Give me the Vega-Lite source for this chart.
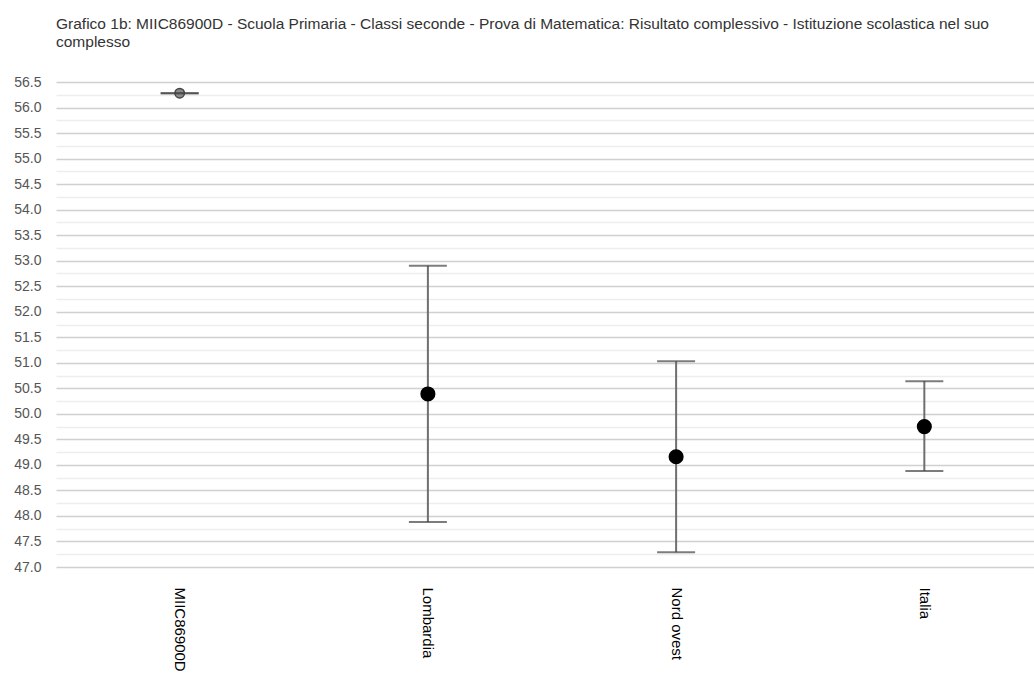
{
  "$schema": "https://vega.github.io/schema/vega-lite/v6.json",
  "width": 978,
  "height": 485,
  "autosize": "none",
  "padding": {"left": 56, "top": 82, "right": 0, "bottom": 108},
  "background": "white",
  "title": {
    "text": ["Grafico 1b: MIIC86900D - Scuola Primaria - Classi seconde - Prova di Matematica: Risultato complessivo - Istituzione scolastica nel suo", "complesso"],
    "anchor": "start",
    "frame": "group",
    "font": "Liberation Sans",
    "fontSize": 15.5,
    "fontWeight": "normal",
    "color": "#333333",
    "lineHeight": 18,
    "offset": 25
  },
  "config": {"view": {"stroke": null}},
  "resolve": {"axis": {"y": "independent"}},
  "data": {
    "values": [
      {"nome": "MIIC86900D", "media": 56.28, "inf": 56.28, "sup": 56.28},
      {"nome": "Lombardia", "media": 50.39, "inf": 47.88, "sup": 52.9},
      {"nome": "Nord ovest", "media": 49.16, "inf": 47.29, "sup": 51.03},
      {"nome": "Italia", "media": 49.75, "inf": 48.88, "sup": 50.64}
    ]
  },
  "encoding": {
    "x": {
      "field": "nome",
      "type": "nominal",
      "sort": null,
      "scale": {"type": "point", "padding": 0.47, "align": 0.53},
      "axis": {
        "title": null,
        "labelAngle": 90,
        "labelAlign": "left",
        "labelBaseline": "middle",
        "labelFont": "Liberation Sans",
        "labelFontSize": 15,
        "labelColor": "#000000",
        "labelPadding": 20,
        "domain": false,
        "ticks": false,
        "grid": false
      }
    }
  },
  "layer": [
    {
      "mark": {"type": "rule", "color": "#6f6f6f", "strokeWidth": 2},
      "encoding": {
        "y": {
          "field": "inf",
          "type": "quantitative",
          "scale": {"domain": [47, 56.5], "nice": false, "zero": false},
          "axis": {
            "title": null,
            "values": [47, 47.25, 47.5, 47.75, 48, 48.25, 48.5, 48.75, 49, 49.25, 49.5, 49.75, 50, 50.25, 50.5, 50.75, 51, 51.25, 51.5, 51.75, 52, 52.25, 52.5, 52.75, 53, 53.25, 53.5, 53.75, 54, 54.25, 54.5, 54.75, 55, 55.25, 55.5, 55.75, 56, 56.25, 56.5],
            "labelExpr": "datum.value % 0.5 === 0 ? format(datum.value, '.1f') : ''",
            "labelOverlap": false,
            "labelFont": "Liberation Sans",
            "labelFontSize": 14,
            "labelColor": "#555555",
            "labelPadding": 15,
            "domain": false,
            "ticks": false,
            "grid": true,
            "gridColor": {"condition": {"test": "datum.value % 0.5 !== 0", "value": "#ededed"}, "value": "#d0d0d0"},
            "gridWidth": 1.5
          }
        },
        "y2": {"field": "sup"}
      }
    },
    {
      "mark": {"type": "point", "filled": true, "opacity": 1},
      "encoding": {
        "y": {"field": "media", "type": "quantitative", "axis": null},
        "size": {"condition": {"test": "datum.nome === 'MIIC86900D'", "value": 90}, "value": 185},
        "color": {"condition": {"test": "datum.nome === 'MIIC86900D'", "value": "#8a8a8a"}, "value": "#000000"},
        "stroke": {"condition": {"test": "datum.nome === 'MIIC86900D'", "value": "#444444"}, "value": "#000000"},
        "strokeWidth": {"value": 1.5}
      }
    },
    {
      "mark": {"type": "tick", "orient": "horizontal", "color": "#444444", "thickness": 2, "size": 38},
      "encoding": {"y": {"field": "sup", "type": "quantitative", "axis": null}}
    },
    {
      "mark": {"type": "tick", "orient": "horizontal", "color": "#444444", "thickness": 2, "size": 38},
      "encoding": {"y": {"field": "inf", "type": "quantitative", "axis": null}}
    }
  ]
}
